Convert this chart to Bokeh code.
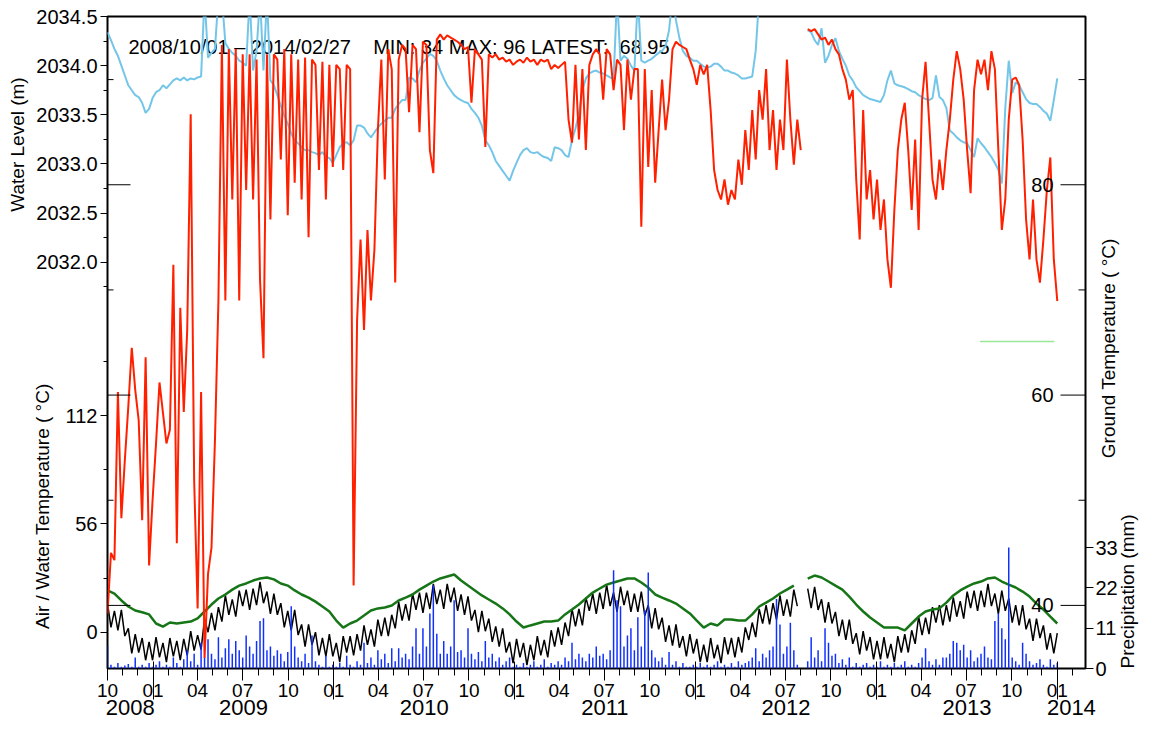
import numpy as np
import pandas as pd
from bokeh.plotting import figure
from bokeh.models import Range1d, LinearAxis, FixedTicker, Label
from bokeh.core.properties import value
from bokeh.embed import file_html
from bokeh.resources import INLINE

nan = float("nan")
FONT = "Liberation Sans"
NB = "\u00a0"

START = "2008-10-01"
END = "2014-02-27"
HEADER = ("2008/10/01 \u2013 2014/02/27" + NB * 4 + "MIN: 34 MAX: 96 LATEST:" + NB * 2 + "68.95")

week_dates = pd.date_range(START, periods=275, freq="7D")
fortnight_dates = pd.date_range(START, periods=138, freq="14D")

ground_temp = [
    39.2, 45.0, 44.3, 60.3, 48.3, 53.8, 58.9, 64.5, 60.5, 57.6,
    48.1, 63.6, 43.8, 50.0, 55.4, 61.2, 58.3, 55.4, 56.7, 72.4,
    45.9, 68.3, 58.4, 66.2, 86.7, 51.9, 39.7, 60.3, 35.0, 43.0,
    45.5, 55.7, 69.0, 93.3, 69.0, 92.9, 78.6, 92.9, 69.0, 92.4,
    79.5, 92.4, 78.6, 91.9, 71.0, 63.5, 92.4, 76.7, 92.4, 91.9,
    82.4, 92.9, 77.1, 92.4, 80.2, 91.9, 78.6, 92.1, 75.0, 91.9,
    91.4, 81.4, 91.7, 78.6, 91.4, 81.7, 91.4, 91.0, 81.4, 91.4,
    91.0, 41.9, 67.1, 74.8, 66.2, 75.7, 69.0, 73.8, 85.2, 91.9,
    80.5, 92.9, 91.0, 70.7, 91.9, 93.3, 92.9, 86.9, 93.3, 92.9,
    85.0, 93.6, 93.3, 83.3, 81.1, 93.8, 94.3, 93.8, 94.2, 94.0,
    93.8, 93.6, 93.3, 92.9, 93.1, 87.8, 92.9, 92.4, 91.9, 83.6,
    92.4, 92.1, 92.4, 91.9, 92.1, 91.7, 91.9, 91.4, 91.7, 91.9,
    91.6, 92.1, 91.7, 91.9, 91.4, 91.9, 91.7, 91.9, 91.0, 91.4,
    91.1, 91.4, 91.7, 86.2, 84.0, 91.4, 84.3, 91.0, 83.3, 91.4,
    92.4, 92.9, 92.4, 88.1, 92.9, 92.4, 89.0, 91.9, 91.4, 85.2,
    91.9, 88.1, 91.0, 91.0, 76.0, 91.0, 81.7, 89.0, 80.2, 85.2,
    90.0, 85.2, 88.1, 92.9, 93.6, 93.3, 93.1, 92.9, 91.9, 91.0,
    89.5, 91.4, 90.5, 91.4, 87.1, 81.4, 79.5, 78.6, 80.5, 78.1,
    79.5, 78.6, 82.4, 80.0, 85.2, 81.4, 87.1, 82.4, 89.0, 86.2,
    91.0, 83.3, 87.1, 81.4, 86.2, 83.3, 91.9, 86.2, 81.9, 86.2,
    83.3, nan, 94.8, 94.6, 94.8, 94.3, 93.8, 94.0, 93.3, 93.8,
    92.9, 92.4, 91.0, 90.0, 88.1, 89.0, 80.5, 74.8, 87.1, 78.6,
    81.4, 76.7, 80.5, 75.7, 78.6, 72.9, 70.2, 77.6, 83.3, 86.2,
    87.8, 83.3, 77.6, 84.3, 75.7, 88.1, 91.7, 86.2, 80.5, 78.6,
    82.4, 79.5, 83.3, 86.2, 90.0, 92.7, 91.0, 88.1, 83.3, 79.2,
    89.0, 91.9, 90.5, 91.9, 89.0, 92.7, 91.0, 83.3, 75.7, 78.6,
    86.2, 90.0, 90.2, 89.5, 84.3, 76.7, 72.9, 78.6, 72.9, 70.7,
    74.8, 79.5, 82.6, 72.9, 68.95,
]

water_level = [
    2034.34, 2034.26, 2034.17, 2034.10, 2034.00, 2033.90, 2033.80, 2033.75, 2033.70, 2033.68,
    2033.62, 2033.52, 2033.56, 2033.67, 2033.73, 2033.75, 2033.80, 2033.77, 2033.81, 2033.85,
    2033.87, 2033.85, 2033.88, 2033.85, 2033.87, 2033.86, 2033.88, 2033.89, 2034.70, 2034.08,
    2034.13, 2034.17, 2034.70, 2034.70, 2034.23, 2034.17, 2034.13, 2034.10, 2034.05, 2034.03,
    2034.00, 2034.70, 2033.95, 2034.15, 2034.70, 2033.95, 2034.70, 2033.85, 2033.80, 2033.70,
    2033.59, 2033.49, 2033.41, 2033.31, 2033.24, 2033.21, 2033.17, 2033.14, 2033.14, 2033.12,
    2033.11, 2033.09, 2033.12, 2033.07, 2033.06, 2033.01, 2033.09, 2033.17, 2033.21, 2033.22,
    2033.19, 2033.24, 2033.39, 2033.39, 2033.37, 2033.31, 2033.27, 2033.32, 2033.37, 2033.41,
    2033.44, 2033.47, 2033.47, 2033.56, 2033.61, 2033.65, 2033.65, 2033.88, 2033.87, 2033.83,
    2033.95, 2034.03, 2034.07, 2034.12, 2034.10, 2034.05, 2033.95, 2033.87, 2033.80, 2033.75,
    2033.70, 2033.67, 2033.65, 2033.63, 2033.62, 2033.56, 2033.52, 2033.47, 2033.39, 2033.24,
    2033.19, 2033.12, 2033.03, 2032.98, 2032.93, 2032.88, 2032.83, 2032.93, 2033.01, 2033.09,
    2033.14, 2033.16, 2033.12, 2033.11, 2033.12, 2033.09, 2033.07, 2033.06, 2033.03, 2033.17,
    2033.16, 2033.14, 2033.09, 2033.07, 2033.24, 2033.36, 2033.51, 2033.75, 2033.87, 2033.92,
    2033.94, 2033.95, 2033.93, 2033.92, 2033.90, 2033.88, 2033.87, 2034.70, 2034.05, 2034.10,
    2034.07, 2034.00, 2033.95, 2034.70, 2034.05, 2034.03, 2034.05, 2034.07, 2034.10, 2034.13,
    2034.15, 2034.20, 2034.36, 2034.70, 2034.46, 2034.28, 2034.15, 2034.10, 2034.08, 2034.05,
    2034.05, 2034.02, 2033.99, 2033.98, 2033.99, 2034.02, 2034.02, 2033.99, 2033.95, 2033.95,
    2033.93, 2033.92, 2033.90, 2033.87, 2033.87, 2033.88, 2033.89, 2034.15, 2034.70, nan,
    nan, nan, nan, nan, nan, nan, nan, nan, nan, nan,
    nan, nan, 2034.36, 2034.34, 2034.26, 2034.21, 2034.38, 2034.03, 2034.10, 2034.21,
    2034.28, 2034.15, 2034.07, 2034.00, 2033.90, 2033.85, 2033.78, 2033.74, 2033.70, 2033.68,
    2033.66, 2033.65, 2033.64, 2033.63, 2033.70, 2033.85, 2033.95, 2033.82, 2033.80, 2033.79,
    2033.78, 2033.76, 2033.74, 2033.73, 2033.70, 2033.68, 2033.66, 2033.65, 2033.67, 2033.90,
    2033.68, 2033.65, 2033.57, 2033.34, 2033.31, 2033.27, 2033.24, 2033.22, 2033.21, 2033.14,
    2033.07, 2033.26, 2033.21, 2033.17, 2033.12, 2033.07, 2033.01, 2032.94, 2032.80, 2033.57,
    2034.05, 2033.72, 2033.83, 2033.80, 2033.73, 2033.66, 2033.62, 2033.61, 2033.61, 2033.58,
    2033.54, 2033.51, 2033.44, 2033.65, 2033.87,
]

air_temp = [
    15, 2.5, 11, 1, 11.5, -2, 2, -11, -1, -10.5,
    -3, -14.5, -5, -14.5, -2.5, -13, -5.5, -15.5, -3, -12.5,
    -4.5, -14.5, -3.5, -12, 0.5, -9.5, -1.5, -9, 7, 0,
    10, 1, 13, 5.5, 19, 9, 17, 8, 21.5, 13.5,
    22, 11.5, 22.5, 14, 26, 15, 21, 9.5, 20, 9,
    15, 2.5, 11, 1, 11.5, -1.5, 4, -7.5, 4, -6.5,
    0, -12, -3, -12.5, -1, -12.5, -5.5, -15.5, -2, -10.5,
    -2, -12, -1, -9.5, 3.5, -6.5, 1.5, -7.5, 6.5, -2,
    7.5, -2, 9, 2, 15.5, 6, 14.5, 6, 20, 11.5,
    20.5, 10, 20.5, 12, 25, 14.5, 22, 12, 25, 15.5,
    23, 11, 19.5, 9, 18.5, 6, 11.5, 0, 11, 0.5,
    7, -5, 3, -7.5, 2, -10.5, -5, -16, -3.5, -13,
    -5.5, -17, -6.5, -14.5, -2, -12, -4, -13, 1, -7.5,
    2.5, -6.5, 5, -2, 12, 3, 12, 3.5, 18, 11,
    20, 9.5, 20.5, 12, 24.5, 13.5, 20.5, 10.5, 23.5, 14,
    21.5, 10.5, 20, 10.5, 21, 8.5, 14, 2, 12.5, 1.5,
    7.5, -5, 3.5, -7, 4, -8, -2, -12.5, -1, -11,
    -3.5, -15.5, -6.5, -15.5, -3, -13.5, -6.5, -16, -2.5, -11.5,
    -3, -13, -2.5, -10.5, 2.5, -4, 5, -2.5, 12, 4.5,
    14, 4, 15, 6.5, 19, 8.5, 17, 8, 22, 13.5,
    nan, nan, 22.5, 12.5, 23.5, 11.5, 17, 5, 15.5, 4.5,
    10.5, -2, 6.5, -4, 6.5, -6, -0.5, -11.5, 0.5, -9.5,
    -2.5, -14, -4.5, -14, -2.5, -13.5, -6, -15.5, -2, -10.5,
    -1, -10.5, 1, -6, 8, -1.5, 7.5, -1, 13, 5,
    14, 3.5, 14, 5.5, 18, 8, 16, 7, 21, 12.5,
    21.5, 11, 21.5, 13, 25, 13.5, 20, 9.5, 21.5, 11,
    17.5, 5, 14, 3.5, 14, 1.5, 7, -4.5, 7, -3,
    3.5, -9, -0.5, -11, -0.5,
]

precipitation = [
    6.3, 1.0, 0.5, 1.5, 0.5, 0.8, 1.2, 0.5, 3.0, 0.5,
    1.0, 0.5, 1.5, 0.5, 1.0, 2.0, 0.5, 1.0, 0.5, 3.0,
    1.5, 0.5, 2.5, 5.0, 2.0, 4.0, 1.0, 7.0, 3.0, 8.0,
    4.0, 2.5, 8.5, 3.0, 5.5, 8.0, 4.0, 7.5, 5.0, 3.0,
    9.0, 6.0, 4.0, 7.5, 13.0, 13.7, 5.0, 6.0, 3.5, 5.0,
    4.0, 2.0, 4.5, 17.0, 6.0, 3.0, 2.0, 4.0, 1.5, 9.0,
    2.0, 1.0, 0.5, 3.5, 0.5, 1.0, 0.5, 1.5, 0.5, 3.5,
    1.0, 0.5, 2.0, 1.0, 7.0, 1.5, 3.0, 1.0, 5.0, 2.5,
    4.0, 1.5, 5.5, 2.0, 5.5, 3.0, 4.0, 2.5, 6.0, 11.0,
    4.0, 11.0, 6.0, 15.0, 22.7, 9.5, 4.0, 7.5, 4.0, 6.0,
    18.6, 4.5, 5.0, 3.0, 11.0, 4.0, 2.5, 4.5, 2.0, 7.5,
    3.0, 4.0, 2.0, 3.0, 1.0, 2.0, 3.0, 0.5, 1.0, 0.5,
    1.5, 0.5, 1.0, 2.0, 0.5, 1.0, 2.5, 0.5, 1.5, 1.0,
    2.0, 1.0, 3.0, 2.0, 7.0, 2.5, 4.0, 3.0, 2.0, 4.0,
    3.0, 6.0, 3.5, 4.0, 2.5, 5.0, 26.8, 18.6, 17.0, 6.0,
    9.0, 11.0, 5.0, 14.0, 6.0, 16.0, 26.2, 5.0, 3.0, 2.0,
    3.0, 1.0, 4.5, 1.0, 2.0, 0.5, 1.5, 0.5, 0.5, 1.0,
    0.5, 1.5, 0.5, 1.0, 0.5, 1.0, 2.0, 0.5, 1.0, 0.5,
    1.5, 0.5, 2.0, 1.0, 1.5, 2.0, 3.0, 5.5, 2.0, 4.0,
    3.0, 5.0, 6.0, 19.0, 12.0, 4.0, 6.0, 12.5, 5.0, 1.0,
    0.0, 0.0, 2.0, 8.5, 3.0, 5.0, 2.0, 11.0, 7.0, 3.5,
    4.0, 1.5, 2.5, 1.0, 3.0, 0.5, 1.5, 0.5, 1.0, 1.5,
    0.5, 1.0, 0.5, 2.0, 0.5, 1.0, 0.5, 1.5, 0.5, 1.0,
    2.0, 0.5, 1.0, 0.5, 1.5, 3.0, 5.5, 2.0, 1.0, 2.5,
    1.0, 3.0, 3.0, 4.0, 7.5, 7.0, 5.0, 6.5, 3.0, 5.0,
    2.0, 3.0, 4.0, 6.0, 3.0, 2.5, 13.0, 15.0, 11.0, 8.0,
    33.0, 3.0, 2.0, 1.0, 7.0, 4.0, 2.0, 1.0, 1.5, 2.5,
    1.0, 0.5, 2.5, 1.0, 1.5,
]

water_temp = [
    21.6, 20.0, 16.4, 13.3, 11.2, 10.3, 9.2, 4.5, 2.9, 5.0,
    4.5, 5.0, 5.5, 7.1, 10.7, 14.3, 17.4, 19.5, 22.0, 24.1,
    25.2, 26.7, 27.8, 28.3, 27.3, 25.2, 24.1, 21.6, 19.5, 17.9,
    15.8, 13.3, 10.7, 6.0, 2.4, 4.5, 6.0, 8.6, 11.2, 12.3,
    12.8, 13.8, 16.4, 17.9, 19.5, 22.0, 24.1, 26.2, 27.8, 28.8,
    29.8, 26.7, 24.1, 21.6, 19.0, 16.9, 14.8, 12.3, 9.2, 5.5,
    2.4, 3.5, 4.5, 5.5, 5.5, 6.0, 9.2, 11.7, 14.3, 17.4,
    20.5, 22.6, 24.6, 25.7, 26.7, 27.8, 27.8, 25.7, 23.1, 19.5,
    17.9, 16.4, 14.8, 12.3, 9.7, 6.0, 2.4, 4.5, 3.5, 6.6,
    6.6, 6.0, 6.0, 9.2, 13.3, 15.3, 17.4, 20.0, 22.0, 24.1,
    nan, 27.7, 29.3, 28.3, 26.2, 24.1, 22.0, 18.4, 14.3, 10.7,
    7.6, 5.0, 2.4, 2.4, 2.4, 0.9, 4.5, 8.1, 10.7, 11.7,
    12.3, 15.3, 19.0, 21.6, 23.6, 25.2, 26.2, 27.8, 28.3, 26.2,
    24.6, 23.1, 21.0, 18.4, 14.8, 11.7, 8.1, 4.5,
]

ground_temp_2_dates = ["2013-07-29", "2013-12-26"]
ground_temp_2 = [65.1, 65.1]

AIR_RANGE = (-18.77, 318.35)
WATER_RANGE = (2027.866, 2034.5)
GROUND_RANGE = (34.0, 96.0)
PRECIP_RANGE = (0.0, 178.0)

air_ticks = [0, 56, 112]
air_minor = [28, 84, 140]
water_ticks = [2032.0, 2032.5, 2033.0, 2033.5, 2034.0, 2034.5]
water_minor = [2031.75, 2032.25, 2032.75, 2033.25, 2033.75, 2034.25]
ground_ticks = [40, 60, 80]
ground_minor = [50, 70, 90]
precip_ticks = [0, 11, 22, 33]

WATER_TITLE = "Water Level (m)"
AIR_TITLE = "Air / Water Temperature ( \u00b0C)"
GROUND_TITLE = "Ground Temperature ( \u00b0C)"
PRECIP_TITLE = "Precipitation (mm)"
# where each right-hand title begins (it is written upwards from there)
GROUND_TITLE_START = 54.0   # ground-temperature units
PRECIP_TITLE_START = 0.0    # precipitation units

W, H = 1153, 731
BORDER_L, BORDER_R, BORDER_T, BORDER_B = 107, 68, 16, 63


def to_ms(ts):
    return float((pd.Timestamp(ts) - pd.Timestamp("1970-01-01")) / pd.Timedelta(milliseconds=1))


X0, X1 = to_ms(START), to_ms(END)

p = figure(width=W, height=H, title=None,
           x_range=Range1d(X0, X1), y_range=Range1d(*AIR_RANGE),
           x_axis_type=None, y_axis_type=None,
           output_backend="svg", toolbar_location=None,
           min_border_left=BORDER_L, min_border_right=BORDER_R,
           min_border_top=BORDER_T, min_border_bottom=BORDER_B)
p.extra_y_ranges = {"water": Range1d(*WATER_RANGE),
                    "ground": Range1d(*GROUND_RANGE),
                    "precip": Range1d(*PRECIP_RANGE)}
p.outline_line_color = "black"
p.outline_line_width = 2
p.background_fill_color = "white"
p.border_fill_color = "white"


def water_to_air(w):
    a0, a1 = AIR_RANGE
    w0, w1 = WATER_RANGE
    return round(a0 + (w - w0) / (w1 - w0) * (a1 - a0), 6)


def style(ax, size):
    ax.major_label_text_font = FONT
    ax.major_label_text_font_size = size
    ax.major_label_text_color = "black"
    ax.major_tick_line_color = "black"
    ax.minor_tick_line_color = "black"
    ax.axis_line_color = None
    ax.axis_label_text_font = FONT
    ax.axis_label_text_font_size = "19px"
    ax.axis_label_text_font_style = "normal"
    ax.axis_label_text_color = "black"


# ---- left axis: water level (top) and air / water temperature (bottom)
left_major = [float(t) for t in air_ticks] + [water_to_air(w) for w in water_ticks]
left_minor = [float(t) for t in air_minor] + [water_to_air(w) for w in water_minor]
left_labels = {float(t): str(t) for t in air_ticks}
left_labels.update({water_to_air(w): f"{w:.1f}" for w in water_ticks})
yl = LinearAxis(ticker=FixedTicker(ticks=left_major, minor_ticks=left_minor),
                major_label_overrides=left_labels,
                major_tick_out=7, major_tick_in=0, minor_tick_out=4, minor_tick_in=0,
                major_label_standoff=3)
style(yl, "20px")
# two title lines; padding slides each title to the part of the axis it belongs to
yl.axis_label = NB * 75 + WATER_TITLE + "\n" + AIR_TITLE + NB * 62
yl.axis_label_standoff = -20
yl.axis_label_text_line_height = 1.2
p.add_layout(yl, "left")

# ---- right axis: precipitation ticks
yr = LinearAxis(y_range_name="precip",
                ticker=FixedTicker(ticks=precip_ticks, minor_ticks=[]),
                major_tick_out=8, major_tick_in=0, minor_tick_out=0, minor_tick_in=0,
                major_label_standoff=2)
style(yr, "20px")
p.add_layout(yr, "right")


def title_axis(rng, start, text, standoff):
    ax = LinearAxis(y_range_name=rng,
                    ticker=FixedTicker(ticks=[start], minor_ticks=[]),
                    major_label_overrides={start: text},
                    major_label_orientation=np.pi / 2,
                    major_tick_out=0, major_tick_in=0, minor_tick_out=0, minor_tick_in=0,
                    major_label_standoff=standoff)
    style(ax, "19px")
    ax.major_tick_line_color = None
    ax.minor_tick_line_color = None
    return ax


p.add_layout(title_axis("ground", GROUND_TITLE_START, GROUND_TITLE, -12), "right")
p.add_layout(title_axis("precip", PRECIP_TITLE_START, PRECIP_TITLE, -5), "right")

# ---- bottom axes: months, year ticks, year labels
month_starts = pd.date_range("2008-10-01", "2014-02-01", freq="MS")
quarters = [d for d in month_starts if d.month in (1, 4, 7, 10)]
jans = [d for d in month_starts if d.month == 1]
b1 = LinearAxis(ticker=FixedTicker(ticks=[to_ms(d) for d in quarters],
                                   minor_ticks=[to_ms(d) for d in month_starts]),
                major_label_overrides={to_ms(d): d.strftime("%m") for d in quarters},
                major_tick_out=12, major_tick_in=0, minor_tick_out=7, minor_tick_in=0,
                major_label_standoff=3)
style(b1, "19px")
p.add_layout(b1, "below")

b2 = LinearAxis(ticker=FixedTicker(ticks=[to_ms(d) for d in jans], minor_ticks=[]),
                major_tick_out=0, major_tick_in=38, minor_tick_out=0, minor_tick_in=0,
                major_label_standoff=0)
style(b2, "0px")
b2.major_label_text_color = None
p.add_layout(b2, "below")

year_centers, year_labels = [], {}
for yr_ in range(2008, 2015):
    lo = max(to_ms(f"{yr_}-01-01"), X0)
    hi = min(to_ms(f"{yr_ + 1}-01-01"), X1)
    c = float(round((lo + hi) / 2.0))
    year_centers.append(c)
    year_labels[c] = str(yr_)
b3 = LinearAxis(ticker=FixedTicker(ticks=year_centers, minor_ticks=[]),
                major_label_overrides=year_labels,
                major_tick_out=0, major_tick_in=0, major_label_standoff=0)
style(b3, "22px")
b3.major_tick_line_color = None
p.add_layout(b3, "below")

# ---- data
p.line(week_dates, water_level, y_range_name="water", line_color="#74c6e8", line_width=2)
p.line(week_dates, air_temp, line_color="black", line_width=1.5)
p.line(fortnight_dates, water_temp, line_color="#167516", line_width=2.5)
p.vbar(x=week_dates, top=precipitation, width=3 * 86400000, y_range_name="precip",
       fill_color="#1030ff", line_color=None)
p.line(week_dates, ground_temp, y_range_name="ground", line_color="#ff2000", line_width=2)
p.line(pd.to_datetime(ground_temp_2_dates), ground_temp_2, y_range_name="ground",
       line_color="#98e898", line_width=1.5)

# ---- ground temperature ticks (inside the frame, both sides) and labels
p.ray(x=[X1] * len(ground_ticks), y=ground_ticks, length=25, length_units="screen",
      angle=np.pi, y_range_name="ground", line_color="black", line_width=1)
p.ray(x=[X1] * len(ground_minor), y=ground_minor, length=7, length_units="screen",
      angle=np.pi, y_range_name="ground", line_color="black", line_width=1)
p.ray(x=[X0] * len(ground_ticks), y=ground_ticks, length=23, length_units="screen",
      angle=0, y_range_name="ground", line_color="black", line_width=1)
p.ray(x=[X0] * len(ground_minor), y=ground_minor, length=6, length_units="screen",
      angle=0, y_range_name="ground", line_color="black", line_width=1)
p.text(x=[X1] * len(ground_ticks), y=ground_ticks, text=[str(t) for t in ground_ticks],
       x_offset=-32, text_align="right", text_baseline="middle", y_range_name="ground",
       text_font=value(FONT), text_font_size="20px", text_color="black")

# ---- header
p.add_layout(Label(x=X0, y=WATER_RANGE[1], y_range_name="water", x_offset=21, y_offset=-30,
                   text=HEADER, text_align="left", text_baseline="middle", text_font=FONT,
                   text_font_size="20px", text_color="black", level="underlay"))

open("out.html", "w").write(file_html(p, INLINE))
